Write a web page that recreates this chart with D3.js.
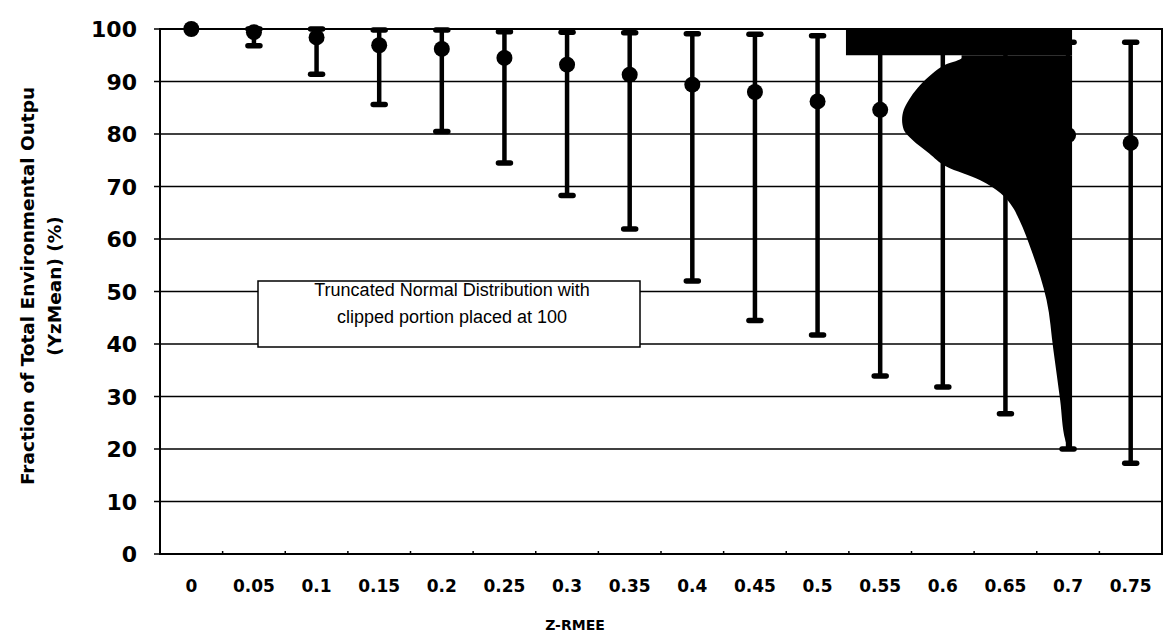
<!DOCTYPE html>
<html>
<head>
<meta charset="utf-8">
<script src="https://cdn.jsdelivr.net/npm/d3@7"></script>
<style>
  body { margin: 0; background: #fff; }
  svg { display: block; }
</style>
</head>
<body>
<svg id="chart" width="1167" height="637"></svg>
<script>
'use strict'

// z-rmee categories
const categories = ["0", "0.05", "0.1", "0.15", "0.2", "0.25", "0.3", "0.35",
                    "0.4", "0.45", "0.5", "0.55", "0.6", "0.65", "0.7", "0.75"]
// mean and the error bar ends (%)
const meanVals = [100, 99.4, 98.4, 96.9, 96.2, 94.5, 93.2, 91.3, 89.4, 88.0, 86.2, 84.6, 83.0, 81.4, 79.8, 78.3]
const lowVals  = [100, 96.8, 91.4, 85.6, 80.5, 74.5, 68.3, 61.9, 52.0, 44.5, 41.7, 33.9, 31.8, 26.7, 20.0, 17.3]
const highVals = [100, 100, 100, 99.8, 99.8, 99.5, 99.4, 99.3, 99.1, 99.0, 98.7, 98.5, 98.2, 98.0, 97.5, 97.5]

const yTicks = [0, 10, 20, 30, 40, 50, 60, 70, 80, 90, 100]

// truncated normal drawn sideways at z = 0.7
const distAt = "0.7"
const distLevels = [95, 94.5, 93.3, 91, 88.7, 86.5, 84.6, 82.7, 80.8, 78.9, 76.3, 73.8, 71.2, 68.7, 66.1, 63.6, 57.9, 48.4, 38.9, 29.3, 21.7, 20.4, 20]
const distDensity = [0.65, 0.65, 0.74, 0.84, 0.91, 0.96, 0.99, 1.0, 0.99, 0.94, 0.84, 0.74, 0.54, 0.42, 0.35, 0.31, 0.24, 0.15, 0.11, 0.07, 0.04, 0.02, 0]
// clipped portion piled at 100
const clipFrom = 95
const clipTo = 100
const clipDensity = 1.33

const noteLines = ["Truncated Normal Distribution with", "clipped portion placed at 100"]

const svg = d3.select('#chart')
const mLeft = 160, mRight = 1162, mTop = 29, mBottom = 554

let x = d3.scaleBand().domain(categories).range([mLeft, mRight]).padding(0)
let y = d3.scaleLinear().domain([0, 100]).range([mBottom, mTop])
let dens = d3.scaleLinear().domain([0, 1]).range([0, 170])

// grid
svg.append('g')
  .selectAll('line')
  .data(yTicks)
  .join('line')
  .attr('x1', mLeft - 6).attr('x2', mRight)
  .attr('y1', d => y(d)).attr('y2', d => y(d))
  .attr('stroke', '#000').attr('stroke-width', 1.5)

// y labels
svg.append('g')
  .selectAll('text')
  .data(yTicks)
  .join('text')
  .attr('x', mLeft - 23)
  .attr('y', d => y(d) + 8)
  .attr('text-anchor', 'end')
  .style('font', 'bold 22px "DejaVu Sans"')
  .text(d => d)

// frame
svg.append('rect')
  .attr('x', mLeft).attr('y', mTop)
  .attr('width', mRight - mLeft).attr('height', mBottom - mTop)
  .attr('fill', 'none').attr('stroke', '#000').attr('stroke-width', 2)

// small x ticks at band edges
svg.append('g')
  .selectAll('line')
  .data(categories.slice(1))
  .join('line')
  .attr('x1', d => x(d)).attr('x2', d => x(d))
  .attr('y1', mBottom).attr('y2', mBottom - 3)
  .attr('stroke', '#000').attr('stroke-width', 1.5)

// x labels
svg.append('g')
  .selectAll('text')
  .data(categories)
  .join('text')
  .attr('x', d => x(d) + x.bandwidth() / 2)
  .attr('y', 592)
  .attr('text-anchor', 'middle')
  .style('font', 'bold 17px "DejaVu Sans"')
  .text(d => d)

svg.append('text')
  .attr('x', 575).attr('y', 630)
  .attr('text-anchor', 'middle')
  .style('font', 'bold 14px "DejaVu Sans"')
  .text('Z-RMEE')

// y title, two lines
let yt = svg.append('text')
  .attr('transform', 'translate(0,286) rotate(-90)')
  .attr('text-anchor', 'middle')
  .style('font', 'bold 18.5px "DejaVu Sans"')
yt.append('tspan').attr('x', 0).attr('y', 34).text('Fraction of Total Environmental Outpu')
yt.append('tspan').attr('x', 0).attr('y', 61).text('(YzMean) (%)')

// note box
svg.append('rect')
  .attr('x', 258).attr('y', 281)
  .attr('width', 382).attr('height', 66)
  .attr('fill', '#fff').attr('stroke', '#000').attr('stroke-width', 1.5)

svg.append('g')
  .selectAll('text')
  .data(noteLines)
  .join('text')
  .attr('x', 452)
  .attr('y', (d, i) => 296 + i * 27)
  .attr('text-anchor', 'middle')
  .style('font', '18px "Liberation Sans"')
  .text(d => d)

// error bars
let pts = categories.map((c, i) => ({ c: c, m: meanVals[i], lo: lowVals[i], hi: highVals[i] }))
let cx = d => x(d.c) + x.bandwidth() / 2

let bars = svg.append('g')
bars.selectAll('line.v')
  .data(pts.filter(d => d.hi > d.lo))
  .join('line')
  .attr('class', 'v')
  .attr('x1', cx).attr('x2', cx)
  .attr('y1', d => y(d.hi)).attr('y2', d => y(d.lo))
  .attr('stroke', '#000').attr('stroke-width', 4.5)

let caps = pts.filter(d => d.hi > d.lo).flatMap(d => [{ c: d.c, v: d.hi }, { c: d.c, v: d.lo }])
bars.selectAll('line.cap')
  .data(caps)
  .join('line')
  .attr('class', 'cap')
  .attr('x1', d => cx(d) - 6).attr('x2', d => cx(d) + 6)
  .attr('y1', d => y(d.v)).attr('y2', d => y(d.v))
  .attr('stroke', '#000').attr('stroke-width', 5.5)
  .attr('stroke-linecap', 'round')

bars.selectAll('circle')
  .data(pts)
  .join('circle')
  .attr('cx', cx)
  .attr('cy', d => y(d.m))
  .attr('r', 8)
  .attr('fill', '#000')

// distribution shape
let base = x(distAt) + x.bandwidth() / 2 + 4
let prof = distLevels.map((v, i) => [v, distDensity[i]])

let area = d3.area()
  .y(d => y(d[0]))
  .x0(base)
  .x1(d => base - dens(d[1]))
  .curve(d3.curveMonotoneY)

svg.append('path')
  .datum(prof)
  .attr('d', area)
  .attr('fill', '#000')

svg.append('rect')
  .attr('x', base - dens(clipDensity))
  .attr('y', y(clipTo))
  .attr('width', dens(clipDensity))
  .attr('height', y(clipFrom) - y(clipTo))
  .attr('fill', '#000')
</script>
</body>
</html>
